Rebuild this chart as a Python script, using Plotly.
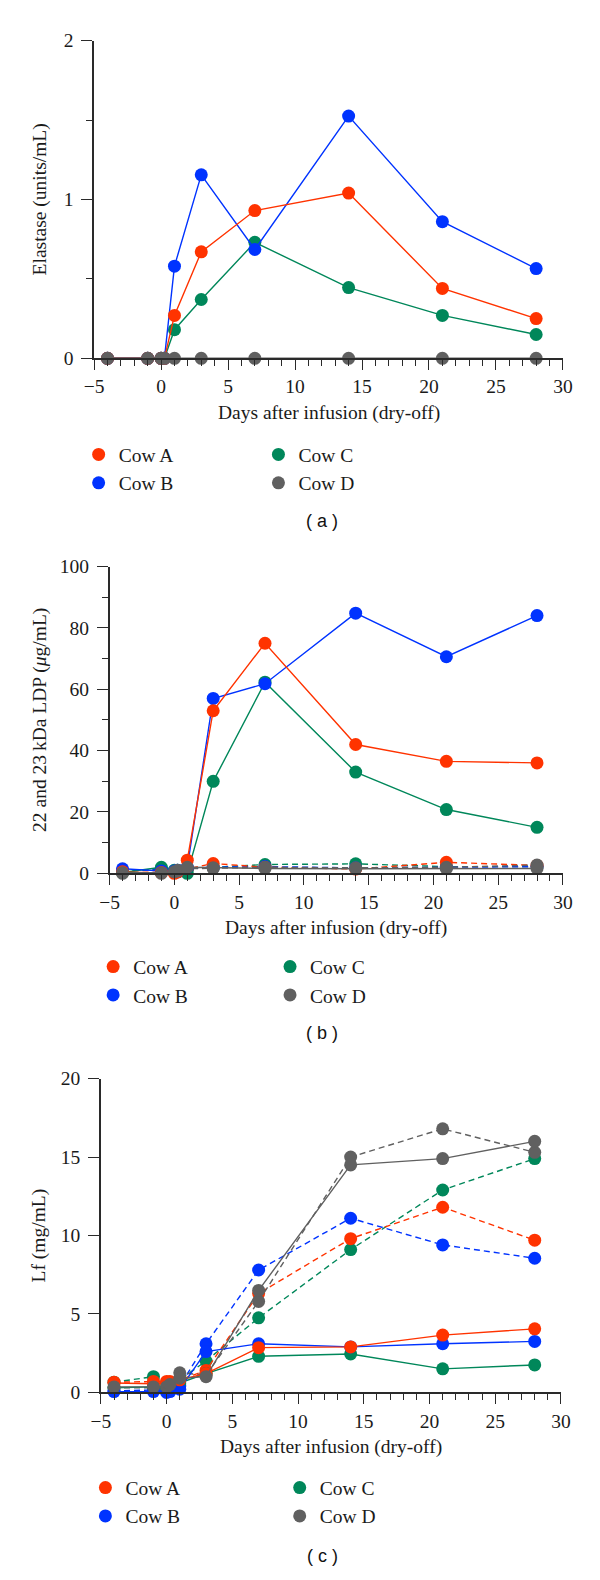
import plotly.graph_objects as go

W, H = 600, 1580

days = [-4, -1, 0, 0.25, 1, 3, 7, 14, 21, 28]
cow_names = ["Cow A", "Cow B", "Cow C", "Cow D"]
cow_colors = ["#ff3300", "#0033ff", "#00875a", "#606060"]

# (a) elastase, units/mL
elastase_a = [0, 0, 0, 0, 0.27, 0.67, 0.93, 1.04, 0.44, 0.25]
elastase_b = [0, 0, 0, 0, 0.58, 1.155, 0.685, 1.525, 0.86, 0.565]
elastase_c = [0, 0, 0, 0, 0.18, 0.37, 0.73, 0.445, 0.27, 0.15]
elastase_d = [0, 0, 0, 0, 0, 0, 0, 0, 0, 0]

# (b) 22 and 23 kDa LDP, ug/mL (solid = one quarter, dashed = other)
ldp_a = [0.5, 0.3, 0, 0.5, 4.3, 53, 75, 42, 36.5, 36]
ldp_b = [1.5, 0.8, 0.5, 0.5, 2.0, 57, 61.8, 84.8, 70.6, 84]
ldp_c = [0.3, 2.0, 0.5, 0.5, 0.0, 30, 62.3, 33, 20.8, 15]
ldp_d = [0.2, 0.2, 0.5, 0.8, 2.0, 1.8, 1.6, 1.5, 1.5, 1.6]
ldp_a_dash = [0.2, 0.3, 0.3, 0.5, 1.5, 3.2, 2.0, 1.4, 3.6, 2.6]
ldp_b_dash = [1.0, 1.2, 0.8, 1.0, 1.6, 2.0, 2.2, 1.8, 2.0, 2.2]
ldp_c_dash = [0.5, 1.5, 1.0, 1.0, 1.5, 2.0, 2.9, 3.1, 2.2, 2.2]
ldp_d_dash = [0.0, 0.0, 0.5, 1.0, 1.5, 1.6, 2.0, 1.8, 2.0, 2.7]

# (c) lactoferrin, mg/mL
lf_a = [0.6, 0.55, 0.6, 0.6, 0.8, 1.2, 2.85, 2.9, 3.65, 4.05]
lf_b = [0.05, 0.05, 0.0, 0.05, 0.2, 2.6, 3.1, 2.9, 3.1, 3.25]
lf_c = [0.3, 0.35, 0.3, 0.4, 0.6, 1.2, 2.3, 2.45, 1.5, 1.75]
lf_d = [0.35, 0.35, 0.35, 0.5, 0.9, 1.0, 6.5, 14.5, 14.9, 16.0]
lf_a_dash = [0.65, 0.7, 0.7, 0.7, 0.8, 1.4, 6.3, 9.8, 11.8, 9.7]
lf_b_dash = [0.1, 0.15, 0.1, 0.15, 0.4, 3.1, 7.8, 11.1, 9.4, 8.55]
lf_c_dash = [0.65, 1.0, 0.6, 0.6, 0.8, 2.0, 4.75, 9.1, 12.9, 14.9]
lf_d_dash = [0.3, 0.3, 0.3, 0.5, 1.25, 1.1, 5.8, 15.0, 16.8, 15.3]

FONT = "Liberation Serif"
FS = 19.5
AXIS_COLOR = "#2a2a2a"

panels = [
    dict(suffix="", solid=[elastase_a, elastase_b, elastase_c, elastase_d], dashed=None,
         xpix=(87, 572), ypix=(31, 353), yrange=[0, 2], dtick=1, minor=0.5,
         ytitle="Elastase (units/mL)", tag="(\u00a0a\u00a0)", legend_x=(71, 257), legend_top=431,
         tag_y=518),
    dict(suffix="2", solid=[ldp_a, ldp_b, ldp_c, ldp_d],
         dashed=[ldp_a_dash, ldp_b_dash, ldp_c_dash, ldp_d_dash],
         xpix=(103, 572), ypix=(564, 875), yrange=[0, 100], dtick=20, minor=10,
         ytitle="22 and 23\u2009kDa LDP (<i>\u03bc</i>g/mL)", tag="(\u00a0b\u00a0)",
         legend_x=(86, 269), legend_top=950, tag_y=1037),
    dict(suffix="3", solid=[lf_a, lf_b, lf_c, lf_d],
         dashed=[lf_a_dash, lf_b_dash, lf_c_dash, lf_d_dash],
         xpix=(94, 570), ypix=(1083, 1401), yrange=[0, 20], dtick=5, minor=None,
         ytitle="Lf (mg/mL)", tag="(\u00a0c\u00a0)", legend_x=(78, 279), legend_top=1478,
         tag_y=1567),
]

draw_order = [2, 1, 0, 3]  # green, blue, red, gray on top

fig = go.Figure()
annotations = []
layout = dict(
    width=W, height=H, margin=dict(l=0, r=0, t=0, b=0),
    paper_bgcolor="white", plot_bgcolor="white",
    font=dict(family=FONT, size=FS, color="#1a1a1a"),
)

legend_count = 0
for p in panels:
    xa = "x" + p["suffix"]
    ya = "y" + p["suffix"]

    for style, series in (("6px,4px", p["dashed"]), ("solid", p["solid"])):
        if series is None:
            continue
        for i in draw_order:
            fig.add_trace(go.Scatter(
                x=days, y=series[i], xaxis=xa, yaxis=ya, mode="lines+markers",
                line=dict(color=cow_colors[i], width=1.4, dash=style),
                marker=dict(color=cow_colors[i], size=13),
                cliponaxis=False, showlegend=False, hoverinfo="skip",
            ))

    # legend: two columns (A,B) and (C,D)
    for col, idx in enumerate([(0, 1), (2, 3)]):
        legend_count += 1
        lname = "legend" if legend_count == 1 else "legend%d" % legend_count
        for i in idx:
            fig.add_trace(go.Scatter(
                x=[None], y=[None], xaxis=xa, yaxis=ya, mode="markers",
                name=cow_names[i], marker=dict(color=cow_colors[i], size=13),
                legend=lname, showlegend=True,
            ))
        layout[lname] = dict(
            x=p["legend_x"][col] / W, xanchor="left",
            y=1 - p["legend_top"] / H, yanchor="top",
            orientation="v", bgcolor="rgba(0,0,0,0)", itemwidth=30,
            font=dict(family=FONT, size=FS, color="#1a1a1a"),
            tracegroupgap=0,
        )

    x0, x1 = p["xpix"]
    y0, y1 = p["ypix"]
    layout["xaxis" + p["suffix"]] = dict(
        domain=[x0 / W, x1 / W], anchor=ya, range=[-5, 30],
        tick0=0, dtick=5, ticks="outside", ticklen=10, tickwidth=1.4,
        tickcolor=AXIS_COLOR, showline=True, linecolor=AXIS_COLOR, linewidth=1.5,
        showgrid=False, zeroline=False, ticklabelstandoff=0,
        minor=dict(dtick=1, ticks="outside", ticklen=6, tickwidth=1.2,
                   tickcolor=AXIS_COLOR, showgrid=False),
        tickfont=dict(family=FONT, size=FS),
    )
    yax = dict(
        domain=[1 - y1 / H, 1 - y0 / H], anchor=xa, range=p["yrange"],
        tick0=0, dtick=p["dtick"], ticks="outside", ticklen=11, tickwidth=1.4,
        tickcolor=AXIS_COLOR, showline=True, linecolor=AXIS_COLOR, linewidth=1.5,
        showgrid=False, zeroline=False, ticklabelstandoff=4,
        tickfont=dict(family=FONT, size=FS),
    )
    if p["minor"]:
        yax["minor"] = dict(dtick=p["minor"], ticks="outside", ticklen=6, tickwidth=1.2,
                            tickcolor=AXIS_COLOR, showgrid=False)
    layout["yaxis" + p["suffix"]] = yax

    annotations.append(dict(
        text="Days after infusion (dry-off)", xref="paper", yref="paper",
        x=(x0 + x1) / 2 / W, y=1 - (y1 + 55) / H, showarrow=False,
        font=dict(family=FONT, size=FS), xanchor="center", yanchor="middle",
    ))
    annotations.append(dict(
        text=p["ytitle"], xref="paper", yref="paper", textangle=-90,
        x=31 / W, y=1 - (y0 + y1) / 2 / H, showarrow=False,
        font=dict(family=FONT, size=FS), xanchor="center", yanchor="middle",
    ))
    annotations.append(dict(
        text=p["tag"], xref="paper", yref="paper",
        x=323 / W, y=1 - p["tag_y"] / H, showarrow=False,
        font=dict(family="Liberation Sans", size=18, color="#111"),
        xanchor="center", yanchor="middle",
    ))

layout["annotations"] = annotations
fig.update_layout(**layout)

fig.write_html("out.html", config={"displayModeBar": False},
               post_script="document.body.style.margin='0';")
